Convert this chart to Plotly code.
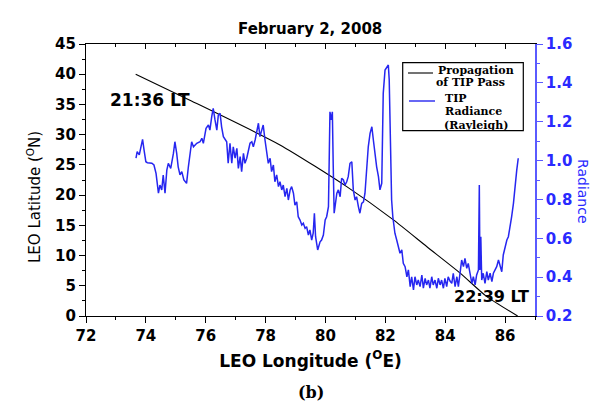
import plotly.graph_objects as go

# TIP radiance along the pass (longitude in deg E, radiance in Rayleigh units)
tip_lon = [73.67, 73.71, 73.78, 73.89, 73.94, 74.00, 74.05, 74.20, 74.27, 74.34,
           74.42, 74.47, 74.53, 74.58, 74.64, 74.70, 74.75, 74.83, 74.92, 74.97,
           75.03, 75.08, 75.14, 75.20, 75.27, 75.36, 75.42, 75.47, 75.53, 75.59,
           75.70, 75.81, 75.87, 75.92, 76.01, 76.09, 76.14, 76.20, 76.25, 76.31,
           76.37, 76.42, 76.48, 76.53, 76.59, 76.70, 76.75, 76.81, 76.87, 76.92,
           76.98, 77.04, 77.09, 77.15, 77.20, 77.26, 77.31, 77.37, 77.42, 77.48,
           77.54, 77.59, 77.65, 77.70, 77.76, 77.81, 77.87, 77.92, 77.98, 78.04,
           78.09, 78.15, 78.20, 78.26, 78.31, 78.37, 78.43, 78.48, 78.54, 78.59,
           78.65, 78.71, 78.76, 78.82, 78.87, 78.93, 78.98, 79.04, 79.09, 79.15,
           79.21, 79.26, 79.32, 79.37, 79.43, 79.48, 79.54, 79.59, 79.63, 79.67,
           79.74, 79.82, 79.87, 79.93, 79.99, 80.04, 80.10, 80.13, 80.15, 80.19,
           80.23, 80.26, 80.29, 80.32, 80.38, 80.43, 80.49, 80.54, 80.60, 80.65,
           80.71, 80.76, 80.82, 80.88, 80.93, 80.99, 81.04, 81.10, 81.15, 81.21,
           81.27, 81.32, 81.38, 81.43, 81.49, 81.55, 81.60, 81.66, 81.71, 81.77,
           81.82, 81.88, 81.93, 81.99, 82.05, 82.10, 82.13, 82.18, 82.21, 82.25,
           82.29, 82.32, 82.38, 82.43, 82.49, 82.55, 82.60, 82.66, 82.72, 82.77,
           82.83, 82.88, 82.94, 82.99, 83.05, 83.10, 83.16, 83.22, 83.27, 83.33,
           83.38, 83.44, 83.49, 83.55, 83.60, 83.66, 83.72, 83.77, 83.83, 83.88,
           83.94, 83.99, 84.05, 84.10, 84.16, 84.22, 84.27, 84.33, 84.39, 84.44,
           84.50, 84.55, 84.61, 84.66, 84.72, 84.77, 84.83, 84.89, 84.94, 85.00,
           85.05, 85.11, 85.14, 85.16, 85.19, 85.22, 85.27, 85.33, 85.39, 85.44,
           85.50, 85.56, 85.61, 85.67, 85.72, 85.78, 85.83, 85.89, 85.94, 86.00,
           86.06, 86.11, 86.17, 86.22, 86.28, 86.33, 86.39, 86.44]
tip_rad = [1.012, 1.046, 1.029, 1.109, 1.054, 0.994, 0.989, 0.986, 0.977, 0.934,
           0.832, 0.874, 0.849, 0.926, 0.832, 0.951, 0.986, 0.960, 1.037, 1.097,
           1.037, 0.968, 0.926, 0.943, 0.900, 0.883, 0.968, 1.020, 1.097, 1.071,
           1.089, 1.097, 1.115, 1.089, 1.166, 1.183, 1.157, 1.226, 1.269, 1.209,
           1.157, 1.234, 1.243, 1.174, 1.123, 1.097, 0.986, 1.089, 0.986, 1.071,
           1.012, 1.063, 0.960, 1.020, 0.943, 1.037, 0.986, 1.012, 1.054, 1.089,
           1.097, 1.071, 1.106, 1.149, 1.192, 1.123, 1.157, 1.183, 1.106, 1.046,
           0.986, 1.012, 0.943, 0.977, 0.891, 0.926, 0.866, 0.891, 0.849, 0.874,
           0.814, 0.857, 0.797, 0.849, 0.866, 0.832, 0.771, 0.788, 0.711, 0.694,
           0.668, 0.677, 0.651, 0.660, 0.617, 0.643, 0.591, 0.626, 0.729, 0.608,
           0.540, 0.582, 0.591, 0.617, 0.694, 0.711, 0.763, 1.054, 1.251, 1.209,
           1.251, 0.968, 0.729, 0.763, 0.832, 0.849, 0.814, 0.909, 0.900, 0.874,
           0.891, 0.917, 0.986, 0.994, 0.849, 0.797, 0.814, 0.763, 0.729, 0.780,
           0.788, 0.832, 0.968, 1.071, 1.140, 1.174, 1.106, 1.020, 0.968, 0.917,
           0.849, 0.883, 1.346, 1.466, 1.483, 1.492, 1.415, 1.054, 0.797, 0.711,
           0.660, 0.626, 0.591, 0.557, 0.523, 0.540, 0.471, 0.454, 0.402, 0.437,
           0.351, 0.402, 0.334, 0.402, 0.360, 0.385, 0.351, 0.411, 0.343, 0.394,
           0.360, 0.385, 0.343, 0.402, 0.360, 0.385, 0.343, 0.394, 0.360, 0.385,
           0.343, 0.394, 0.351, 0.402, 0.380, 0.368, 0.420, 0.351, 0.402, 0.351,
           0.437, 0.488, 0.454, 0.497, 0.445, 0.471, 0.420, 0.368, 0.402, 0.360,
           0.411, 0.437, 0.874, 0.437, 0.608, 0.385, 0.420, 0.368, 0.428, 0.385,
           0.420, 0.377, 0.420, 0.437, 0.454, 0.488, 0.454, 0.428, 0.514, 0.557,
           0.591, 0.608, 0.660, 0.711, 0.780, 0.866, 0.951, 1.012]

# Sub-satellite track of the TIP pass (longitude, latitude)
track_lon = [73.66, 75.47, 78.48, 80.71, 82.27, 83.38, 84.50, 85.39, 86.42]
track_lat = [40.0, 35.7, 28.3, 21.4, 15.9, 11.5, 7.1, 3.2, 0.0]

# Local-time labels at the ends of the pass
lt_text = ["21:36 LT", "22:39 LT"]
lt_lon = [74.15, 85.53]
lt_lat = [35.7, 3.3]

x_ticks = [72, 74, 76, 78, 80, 82, 84, 86]
lat_ticks = [0, 5, 10, 15, 20, 25, 30, 35, 40, 45]
rad_ticks = [0.2, 0.4, 0.6, 0.8, 1.0, 1.2, 1.4, 1.6]

W, H = 604, 418
L, R, T, B = 86, 535, 44, 316
BLUE = "#2626f0"
AXBLUE = "#5a5aff"
SANS = "DejaVu Sans"
SERIF = "DejaVu Serif"


def fx(px):
    return (px - L) / (R - L)


def fy(py):
    return (B - py) / (B - T)


fig = go.Figure()

fig.add_trace(go.Scatter(
    x=track_lon, y=track_lat, mode="lines", name="Propagation of TIP Pass",
    line=dict(color="black", width=1.1, shape="spline", smoothing=0.6),
    xaxis="x", yaxis="y", showlegend=False))

fig.add_trace(go.Scatter(
    x=tip_lon, y=tip_rad, mode="lines", name="TIP Radiance (Rayleigh)",
    line=dict(color=BLUE, width=1.5),
    xaxis="x", yaxis="y2", showlegend=False))

# empty trace that carries the mirrored top axis
fig.add_trace(go.Scatter(x=[None], y=[None], xaxis="x2", yaxis="y",
                         showlegend=False, hoverinfo="skip"))

tickfont = dict(family=SANS, size=15, color="black", weight="bold")

fig.update_layout(
    width=W, height=H,
    margin=dict(l=L, r=W - R, t=T, b=H - B),
    paper_bgcolor="white", plot_bgcolor="white",
    xaxis=dict(range=[72, 87], tickvals=x_ticks, ticks="outside", ticklen=6,
               tickwidth=1.2, tickcolor="black", showline=True, linecolor="black",
               linewidth=1.3, showgrid=False, zeroline=False, tickfont=tickfont,
               minor=dict(dtick=1, ticks="outside", ticklen=3, tickcolor="black"),
               title=dict(text="LEO Longitude (<sup>O</sup>E)",
                          font=dict(family=SANS, size=17, color="black", weight="bold"),
                          standoff=10)),
    xaxis2=dict(range=[72, 87], overlaying="x", side="top", anchor="y",
                tickvals=x_ticks, ticks="inside", ticklen=5, tickcolor="black",
                showticklabels=False, showline=True, linecolor="black",
                linewidth=1.3, showgrid=False, zeroline=False,
                minor=dict(dtick=1, ticks="inside", ticklen=3, tickcolor="black")),
    yaxis=dict(range=[0, 45], tickvals=lat_ticks, ticks="outside", ticklen=6,
               tickwidth=1.2, tickcolor="black", showline=True, linecolor="black",
               linewidth=1.3, showgrid=False, zeroline=False, tickfont=tickfont,
               minor=dict(dtick=2.5, ticks="outside", ticklen=3, tickcolor="black")),
    yaxis2=dict(range=[0.2, 1.6], tickvals=rad_ticks, tickformat=".1f",
                overlaying="y", side="right", anchor="x",
                ticks="outside", ticklen=6, tickwidth=1.2, tickcolor=AXBLUE,
                showline=True, linecolor=AXBLUE, linewidth=1.5,
                showgrid=False, zeroline=False,
                tickfont=dict(family=SANS, size=15, color="#2a2aff", weight="bold"),
                minor=dict(dtick=0.1, ticks="outside", ticklen=3, tickcolor=AXBLUE)),
)

ann = []
ann.append(dict(text="February 2, 2008", xref="paper", yref="paper",
                x=fx(310), y=fy(18), showarrow=False,
                font=dict(family=SANS, size=15, color="black", weight="bold")))
ann.append(dict(text="LEO Latitude (<sup>O</sup>N)", xref="paper", yref="paper",
                x=fx(22), y=fy(197), textangle=-90, showarrow=False,
                font=dict(family=SANS, size=15, color="black")))
ann.append(dict(text="Radiance", xref="paper", yref="paper",
                x=fx(593), y=fy(191), textangle=90, showarrow=False,
                font=dict(family=SANS, size=14, color="#2a2aff")))
ann.append(dict(text="(b)", xref="paper", yref="paper",
                x=fx(311), y=fy(404), showarrow=False,
                font=dict(family=SERIF, size=16, color="black", weight="bold")))
for t, lx, ly, fs in zip(lt_text, lt_lon, lt_lat, [17, 16]):
    ann.append(dict(text=t, x=lx, y=ly, xref="x", yref="y", showarrow=False,
                    font=dict(family=SANS, size=fs, color="black", weight="bold")))

# legend box with line samples
legfont = dict(family=SERIF, size=11, color="black", weight="bold")
leg_lines = [("Propagation", 436, 70), ("of TIP Pass", 434, 82.5),
             ("TIP", 443, 98.3), ("Radiance", 443, 111.7), ("(Rayleigh)", 442, 125)]
for t, px, py in leg_lines:
    ann.append(dict(text=t, xref="paper", yref="paper", x=fx(px), y=fy(py),
                    xanchor="left", yanchor="middle", showarrow=False, font=legfont))

shapes = [
    dict(type="rect", xref="paper", yref="paper", x0=fx(402.7), x1=fx(523.3),
         y0=fy(130.7), y1=fy(62.7), line=dict(color="black", width=1.2),
         fillcolor="white", layer="above"),
    dict(type="line", xref="paper", yref="paper", x0=fx(408), x1=fx(433),
         y0=fy(73), y1=fy(73), line=dict(color="black", width=1.1)),
    dict(type="line", xref="paper", yref="paper", x0=fx(409), x1=fx(435),
         y0=fy(101), y1=fy(101), line=dict(color=BLUE, width=1.4)),
]
fig.update_layout(annotations=ann, shapes=shapes)

fig.write_html("out.html")
